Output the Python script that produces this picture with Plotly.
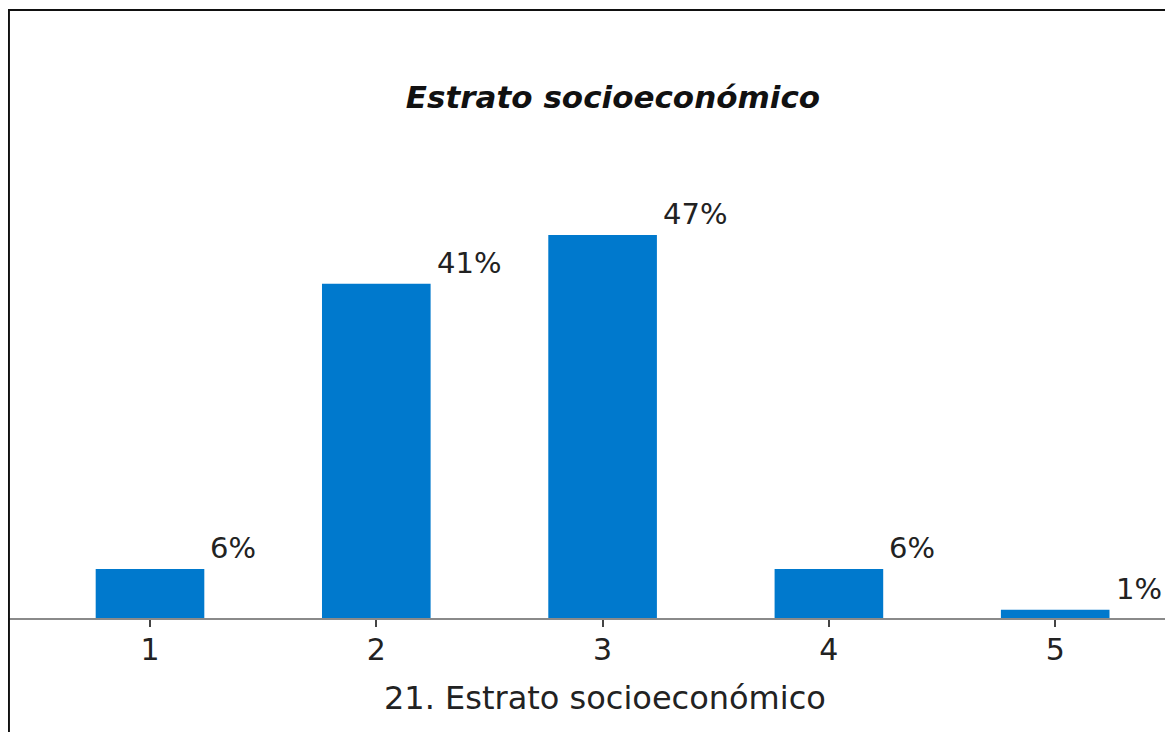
import plotly.graph_objects as go

categories = ["1", "2", "3", "4", "5"]
values = [6, 41, 47, 6, 1]
labels = ["6%", "41%", "47%", "6%", "1%"]
chart_title = "Estrato socioeconómico"
x_title = "21. Estrato socioeconómico"

# page body adds an 8px offset; figure is a little wider so lines reach the window edge
W, H = 1181, 732
top, axis_y = 2, 610
plot_h = axis_y - top
cat_step = 226.3
FONT = "DejaVu Sans, Verdana, sans-serif"

fig = go.Figure()
fig.add_trace(go.Bar(
    x=categories, y=values, width=0.48,
    marker=dict(color="#0079CD", line=dict(width=0)),
    hoverinfo="skip",
))

for i, (v, t) in enumerate(zip(values, labels)):
    fig.add_annotation(
        x=i + 0.24, y=v, xref="x", yref="y", text=t, showarrow=False,
        xanchor="left", yanchor="bottom", xshift=4, yshift=2,
        font=dict(family=FONT, size=29, color="#222222"),
    )

fig.add_annotation(
    x=597 / W, y=-(690 - axis_y) / plot_h, xref="paper", yref="paper",
    text=x_title, showarrow=False, xanchor="center", yanchor="middle",
    font=dict(family=FONT, size=32, color="#222222"),
)

# frame lines (left and top)
fig.add_shape(type="line", xref="paper", yref="paper", x0=0.0008, x1=0.0008,
              y0=-(H - axis_y) / plot_h - 0.02, y1=1,
              line=dict(color="#111111", width=2))
fig.add_shape(type="line", xref="paper", yref="paper", x0=0, x1=1, y0=1, y1=1,
              line=dict(color="#111111", width=2))

x0 = -142 / cat_step
fig.update_layout(
    width=W, height=H,
    margin=dict(l=0, r=0, t=top, b=H - axis_y, pad=0),
    paper_bgcolor="white", plot_bgcolor="white",
    showlegend=False,
    title=dict(text=chart_title, x=605 / W, y=1 - 89 / H, xanchor="center", yanchor="middle",
               xref="container", yref="container",
               font=dict(family=FONT, size=31, color="#111111",
                         weight="bold", style="italic")),
    xaxis=dict(
        type="category", range=[x0, x0 + W / cat_step],
        showline=True, linecolor="#8a8a8a", linewidth=2,
        ticks="outside", ticklen=7, tickwidth=2, tickcolor="#444444",
        ticklabelstandoff=-3,
        tickfont=dict(family=FONT, size=30, color="#222222"),
        showgrid=False, zeroline=False, fixedrange=True,
    ),
    yaxis=dict(range=[0, plot_h / 8.15], visible=False, showgrid=False, zeroline=False),
    bargap=0.52,
)

fig.write_html("out.html")
